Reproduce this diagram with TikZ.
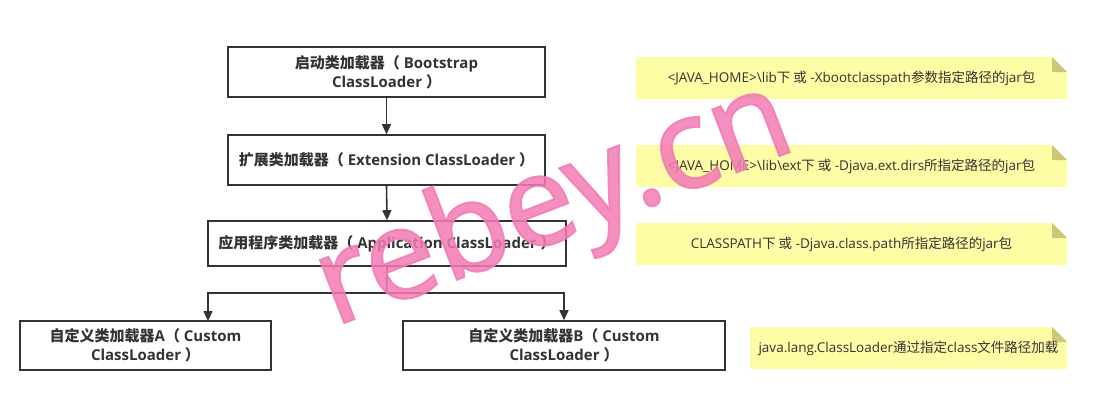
\documentclass[tikz,border=0pt]{standalone}
\usepackage{fontspec}
\setmainfont{Open Sans}
\newfontfamily\cjkf{Noto Sans CJK SC}
\newfontfamily\wmfont[FakeBold=1.5]{Noto Sans}
\newcommand\zhs[1]{{\cjkf #1}}
\usetikzlibrary{arrows.meta}
\definecolor{ink}{HTML}{333333}
\definecolor{notebg}{HTML}{FFFCA6}
\definecolor{notefold}{HTML}{CCC878}
\definecolor{wmpink}{HTML}{F27BB5}
\begin{document}
\begin{tikzpicture}[x=1pt,y=-1pt,
  loader/.style={draw=ink, line width=1.6pt, fill=white, align=center,
    font=\bfseries\fontsize{15}{19}\selectfont, text=ink, inner sep=0pt},
  conn/.style={draw=ink, line width=1.6pt, -{Triangle[length=10pt,width=9pt]}},
  plainconn/.style={draw=ink, line width=1.6pt},
  notetext/.style={font=\fontsize{13.5}{15}\selectfont, text=ink, inner sep=0pt},
  wmark/.style={font=\wmfont\fontsize{126}{126}\selectfont, text=wmpink, opacity=0.85, inner sep=0pt}]
\useasboundingbox (0,0) rectangle (1099,402);

% loaders
\node[loader, minimum width=317, minimum height=50] (boot) at (386.5,72) {\zhs{启动类加载器（} Bootstrap\\ClassLoader \zhs{）}};
\node[loader, minimum width=317, minimum height=50] (ext) at (386.5,160) {\zhs{扩展类加载器（} Extension ClassLoader \zhs{）}};
\node[loader, minimum width=358, minimum height=45] (app) at (387,243.5) {\zhs{应用程序类加载器（} Application ClassLoader \zhs{）}};
\node[loader, minimum width=251, minimum height=49] (ca) at (145.5,345.5) {\zhs{自定义类加载器}A\zhs{（} Custom\\ClassLoader \zhs{）}};
\node[loader, minimum width=322, minimum height=49] (cb) at (564,345.5) {\zhs{自定义类加载器}B\zhs{（} Custom\\ClassLoader \zhs{）}};

% connectors
\draw[conn] (boot.south) -- (ext.north);
\draw[conn] (ext.south) -- (app.north);
\coordinate (split) at (386.5,293);
\coordinate (ta) at (208,321);
\draw[plainconn] (app.south) -- (split);
\draw[conn] (split) -| (ta);
\draw[conn] (split) -| (cb.north);

% notes
\fill[notebg] (636,57) -- (1052,57) -- (1067,72) -- (1067,99) -- (636,99) -- cycle;
\fill[notefold] (1052,57) -- (1067,72) -- (1052,72) -- cycle;
\node[notetext] (n1) at (851.5,78) {<JAVA\_HOME>\textbackslash lib\zhs{下 或} -Xbootclasspath\zhs{参数指定路径的}jar\zhs{包}};

\fill[notebg] (636,145) -- (1052,145) -- (1067,160) -- (1067,187) -- (636,187) -- cycle;
\fill[notefold] (1052,145) -- (1067,160) -- (1052,160) -- cycle;
\node[notetext] (n2) at (851.5,166) {<JAVA\_HOME>\textbackslash lib\textbackslash ext\zhs{下 或} -Djava.ext.dirs\zhs{所指定路径的}jar\zhs{包}};

\fill[notebg] (636,223) -- (1052,223) -- (1067,238) -- (1067,265) -- (636,265) -- cycle;
\fill[notefold] (1052,223) -- (1067,238) -- (1052,238) -- cycle;
\node[notetext] (n3) at (851.5,244) {CLASSPATH\zhs{下 或} -Djava.class.path\zhs{所指定路径的}jar\zhs{包}};

\fill[notebg] (750,327) -- (1052,327) -- (1067,342) -- (1067,369) -- (750,369) -- cycle;
\fill[notefold] (1052,327) -- (1067,342) -- (1052,342) -- cycle;
\node[notetext] (n4) at (908.5,348) {java.lang.ClassLoader\zhs{通过指定}class\zhs{文件路径加载}};

% watermark
\node[wmark, anchor=base west, rotate=21] (mark) at (334,327) {rebey.cn};
\end{tikzpicture}
\end{document}
